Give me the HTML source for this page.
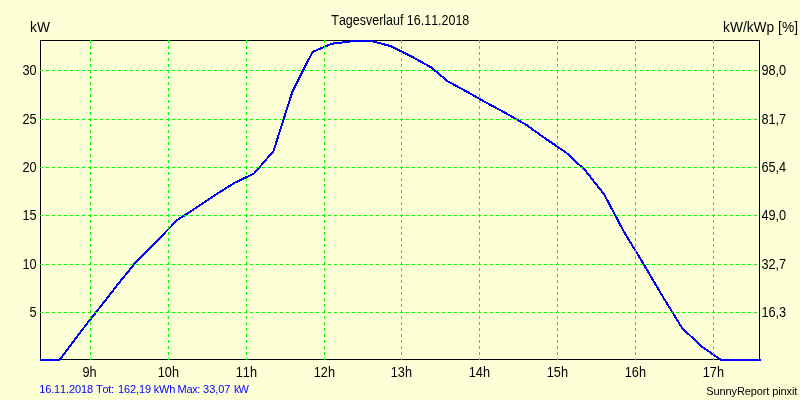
<!DOCTYPE html>
<html><head><meta charset="utf-8"><title>Tagesverlauf 16.11.2018</title>
<style>
html,body{margin:0;padding:0;background:#fdffd7;}
body{width:800px;height:400px;overflow:hidden;font-family:"Liberation Sans",sans-serif;}
svg{display:block;will-change:transform;}
text{font-family:"Liberation Sans",sans-serif;font-size:14px;fill:#000;font-kerning:none;}
.s{font-size:11px;}
.b{fill:#0000ff;}
.g{stroke:#00ff00;stroke-width:1;stroke-dasharray:3 3;shape-rendering:crispEdges;}
.a{stroke:#000;stroke-width:1;fill:none;shape-rendering:crispEdges;}
</style></head><body>
<svg width="800" height="400" viewBox="0 0 800 400">
<rect x="0" y="0" width="800" height="400" fill="#fdffd7"/>
<rect class="a" x="40.5" y="40.5" width="719" height="319"/>
<polyline fill="none" stroke="#0000ff" stroke-width="2" stroke-linejoin="round" shape-rendering="crispEdges" points="40,360 59.46,360 78.9,334 98.4,309.3 117.8,284.4 137.3,260.4 156.8,241 177.5,219.8 195.7,208.2 215.1,195 234.6,182.8 254.1,173.5 273.5,151 292.3,92 312.4,52 331.9,43.7 351.4,41.3 372.5,41.3 390.3,46 409.7,55.5 431,67.3 447.8,81.3 468.1,92.4 487.6,103.4 507,113.8 526.5,125 546,139 565.4,152 584.9,170 604.3,194.6 623.8,231.5 643.3,263.6 662.7,296.5 682.2,328.2 701.6,346.4 721.1,360 740.5,360 761,360"/>
<line class="g" x1="90.5" y1="40" x2="90.5" y2="360"/>
<line class="g" x1="168.5" y1="40" x2="168.5" y2="360"/>
<line class="g" x1="246.5" y1="40" x2="246.5" y2="360"/>
<line class="g" x1="324.5" y1="40" x2="324.5" y2="360"/>
<line class="g" x1="401.5" y1="40" x2="401.5" y2="360"/>
<line class="g" x1="479.5" y1="40" x2="479.5" y2="360"/>
<line class="g" x1="557.5" y1="40" x2="557.5" y2="360"/>
<line class="g" x1="635.5" y1="40" x2="635.5" y2="360"/>
<line class="g" x1="713.5" y1="40" x2="713.5" y2="360"/>
<line class="g" x1="40" y1="70.5" x2="760" y2="70.5"/>
<line class="g" x1="40" y1="119.5" x2="760" y2="119.5"/>
<line class="g" x1="40" y1="167.5" x2="760" y2="167.5"/>
<line class="g" x1="40" y1="215.5" x2="760" y2="215.5"/>
<line class="g" x1="40" y1="264.5" x2="760" y2="264.5"/>
<line class="g" x1="40" y1="312.5" x2="760" y2="312.5"/>
<g>
<text x="400.3" y="25" text-anchor="middle" textLength="138" lengthAdjust="spacingAndGlyphs">Tagesverlauf 16.11.2018</text>
<text x="30.1" y="32" textLength="19.9" lengthAdjust="spacingAndGlyphs">kW</text>
<text x="723" y="32" textLength="75" lengthAdjust="spacingAndGlyphs">kW/kWp [%]</text>
<text transform="translate(36.6,75) scale(0.91,1)" text-anchor="end">30</text>
<text transform="translate(36.6,124) scale(0.91,1)" text-anchor="end">25</text>
<text transform="translate(36.6,172) scale(0.91,1)" text-anchor="end">20</text>
<text transform="translate(36.6,220) scale(0.91,1)" text-anchor="end">15</text>
<text transform="translate(36.6,269) scale(0.91,1)" text-anchor="end">10</text>
<text transform="translate(36.6,317) scale(0.91,1)" text-anchor="end">5</text>
<text transform="translate(761.4,75) scale(0.91,1)" text-anchor="start">98,0</text>
<text transform="translate(761.4,124) scale(0.91,1)" text-anchor="start">81,7</text>
<text transform="translate(761.4,172) scale(0.91,1)" text-anchor="start">65,4</text>
<text transform="translate(761.4,220) scale(0.91,1)" text-anchor="start">49,0</text>
<text transform="translate(761.4,269) scale(0.91,1)" text-anchor="start">32,7</text>
<text transform="translate(761.4,317) scale(0.91,1)" text-anchor="start">16,3</text>
<text transform="translate(89.5,377) scale(0.91,1)" text-anchor="middle">9h</text>
<text transform="translate(168.4,377) scale(0.91,1)" text-anchor="middle">10h</text>
<text transform="translate(246.4,377) scale(0.91,1)" text-anchor="middle">11h</text>
<text transform="translate(324.4,377) scale(0.91,1)" text-anchor="middle">12h</text>
<text transform="translate(401.4,377) scale(0.91,1)" text-anchor="middle">13h</text>
<text transform="translate(479.4,377) scale(0.91,1)" text-anchor="middle">14h</text>
<text transform="translate(557.4,377) scale(0.91,1)" text-anchor="middle">15h</text>
<text transform="translate(635.4,377) scale(0.91,1)" text-anchor="middle">16h</text>
<text transform="translate(713.4,377) scale(0.91,1)" text-anchor="middle">17h</text>
<text class="s b" x="39.15" y="393" textLength="54" lengthAdjust="spacing">16.11.2018</text>
<text class="s b" x="96.1" y="393" textLength="18" lengthAdjust="spacing">Tot:</text>
<text class="s b" x="117.9" y="393" textLength="33.3" lengthAdjust="spacing">162,19</text>
<text class="s b" x="153.65" y="393" textLength="21.7" lengthAdjust="spacing">kWh</text>
<text class="s b" x="177.6" y="393" textLength="22.8" lengthAdjust="spacing">Max:</text>
<text class="s b" x="203.1" y="393" textLength="27.3" lengthAdjust="spacing">33,07</text>
<text class="s b" x="233.9" y="393" textLength="15" lengthAdjust="spacing">kW</text>
<text class="s" x="706.3" y="395" textLength="91" lengthAdjust="spacing">SunnyReport pinxit</text>
</g>
</svg>
</body></html>
